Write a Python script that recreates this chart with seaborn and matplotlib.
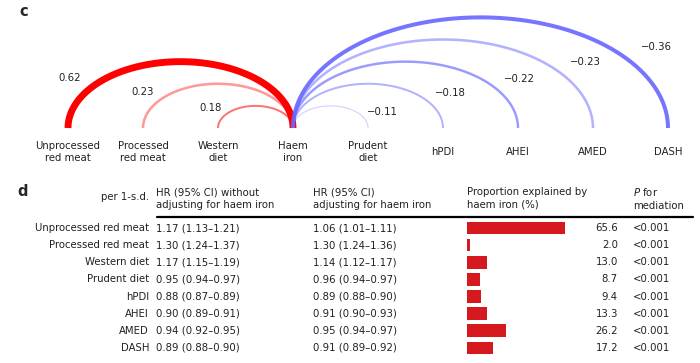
import numpy as np
import pandas as pd
import matplotlib
matplotlib.use("Agg")
import matplotlib.pyplot as plt
import matplotlib.transforms as mtransforms
import seaborn as sns

# panel c: correlation of each exposure with haem iron
nodes = ["Unprocessed\nred meat", "Processed\nred meat", "Western\ndiet", "Haem\niron",
         "Prudent\ndiet", "hPDI", "AHEI", "AMED", "DASH"]
hub = 3
corr_nodes = [0, 1, 2, 4, 5, 6, 7, 8]
corr_vals = [0.62, 0.23, 0.18, -0.11, -0.18, -0.22, -0.23, -0.36]

# panel d: mediation table
exposures = ["Unprocessed red meat", "Processed red meat", "Western diet", "Prudent diet",
             "hPDI", "AHEI", "AMED", "DASH"]
hr_crude = ["1.17 (1.13\u20131.21)", "1.30 (1.24\u20131.37)", "1.17 (1.15\u20131.19)",
            "0.95 (0.94\u20130.97)", "0.88 (0.87\u20130.89)", "0.90 (0.89\u20130.91)",
            "0.94 (0.92\u20130.95)", "0.89 (0.88\u20130.90)"]
hr_adj = ["1.06 (1.01\u20131.11)", "1.30 (1.24\u20131.36)", "1.14 (1.12\u20131.17)",
          "0.96 (0.94\u20130.97)", "0.89 (0.88\u20130.90)", "0.91 (0.90\u20130.93)",
          "0.95 (0.94\u20130.97)", "0.91 (0.89\u20130.92)"]
prop_explained = [65.6, 2.0, 13.0, 8.7, 9.4, 13.3, 26.2, 17.2]
p_mediation = ["<0.001"] * 8

# styling for the arcs
arc_alpha = [1.0, 0.4, 0.55, 0.28, 0.5, 0.65, 0.5, 0.9]
# label offsets from the outer arc end, in pixels (dx, up)
lab_off = [(2, 50), (0, 36), (-7, 20), (14, 16), (7, 35), (1, 49), (-8, 66), (-12, 81)]

W, H = 700, 363
TXT = "#231f20"
FS = 7.3

sns.set_theme(style="white")
plt.rcParams["font.family"] = ["DejaVu Sans"]

fig = plt.figure(figsize=(W / 100, H / 100), dpi=100)


def fx(px):
    return px / W


def fy(py):
    return 1 - py / H


# ---- panel c ----
unit, x0, base, top_h = 75.0, 68.0, 128.0, 175.0
axc = fig.add_axes([0, fy(top_h), 1, top_h / H])
axc.set_xlim(-x0 / unit, (W - x0) / unit)
axc.set_ylim(-(top_h - base) / unit, base / unit)
axc.axis("off")

t = np.linspace(0, np.pi, 300)
for j, r, al, (dx, dy) in zip(corr_nodes, corr_vals, arc_alpha, lab_off):
    c = (j + hub) / 2
    a = abs(j - hub) / 2
    b = 0.59 * a
    col = "#ff0000" if r > 0 else "#6666ff"
    sns.lineplot(x=c + a * np.cos(t), y=b * np.sin(t), sort=False, estimator=None,
                 color=col, alpha=al, lw=8 * abs(r), ax=axc)
    axc.lines[-1].set_solid_capstyle("butt")
    axc.text(j + dx / unit, dy / unit, f"{r:.2f}".replace("-", "\u2212"),
             ha="center", va="center", fontsize=FS, color=TXT)

for i, name in enumerate(nodes):
    axc.text(i, -24 / unit, name, ha="center", va="center", fontsize=FS,
             color=TXT, linespacing=1.2)

fig.text(fx(24), fy(11), "c", fontsize=10.5, fontweight="bold", ha="center", va="center")

# ---- panel d ----
row0, row_step = 228.3, 17.05
tab_top = row0 - row_step / 2
tab_h = row_step * len(exposures)
px_per_pct = 1.5
axb = fig.add_axes([fx(467), fy(tab_top + tab_h), 100 / W, tab_h / H])
df = pd.DataFrame({"exposure": exposures, "prop": prop_explained})
sns.barplot(data=df, x="prop", y="exposure", orient="h", color="#d6191f",
            saturation=1, width=0.72, linewidth=0, ax=axb)
axb.set_xlim(0, 100 / px_per_pct)
axb.set_ylim(len(exposures) - 0.5, -0.5)
axb.axis("off")

tr = mtransforms.blended_transform_factory(fig.transFigure, axb.transData)
for i in range(len(exposures)):
    axb.text(fx(149), i, exposures[i], transform=tr, ha="right", va="center", fontsize=FS, color=TXT)
    axb.text(fx(156), i, hr_crude[i], transform=tr, ha="left", va="center", fontsize=FS, color=TXT)
    axb.text(fx(313), i, hr_adj[i], transform=tr, ha="left", va="center", fontsize=FS, color=TXT)
    axb.text(fx(618), i, f"{prop_explained[i]:.1f}", transform=tr, ha="right", va="center",
             fontsize=FS, color=TXT)
    axb.text(fx(633), i, p_mediation[i], transform=tr, ha="left", va="center", fontsize=FS, color=TXT)

hdr_y = fy(198.5)
fig.text(fx(149), fy(197), "per 1-s.d.", ha="right", va="center", fontsize=FS, color=TXT)
fig.text(fx(156), hdr_y, "HR (95% CI) without\nadjusting for haem iron", ha="left", va="center",
         fontsize=FS, color=TXT, linespacing=1.3)
fig.text(fx(313), hdr_y, "HR (95% CI)\nadjusting for haem iron", ha="left", va="center",
         fontsize=FS, color=TXT, linespacing=1.3)
fig.text(fx(467), hdr_y, "Proportion explained by\nhaem iron (%)", ha="left", va="center",
         fontsize=FS, color=TXT, linespacing=1.3)
fig.text(fx(633), hdr_y, "$\\it{P}$ for\nmediation", ha="left", va="center",
         fontsize=FS, color=TXT, linespacing=1.3)
fig.add_artist(plt.Line2D([fx(157), fx(693)], [fy(217), fy(217)], color="black", lw=1.6))

fig.text(fx(23), fy(191), "d", fontsize=10.5, fontweight="bold", ha="center", va="center")

fig.savefig("out.png", dpi=100, facecolor="white")
